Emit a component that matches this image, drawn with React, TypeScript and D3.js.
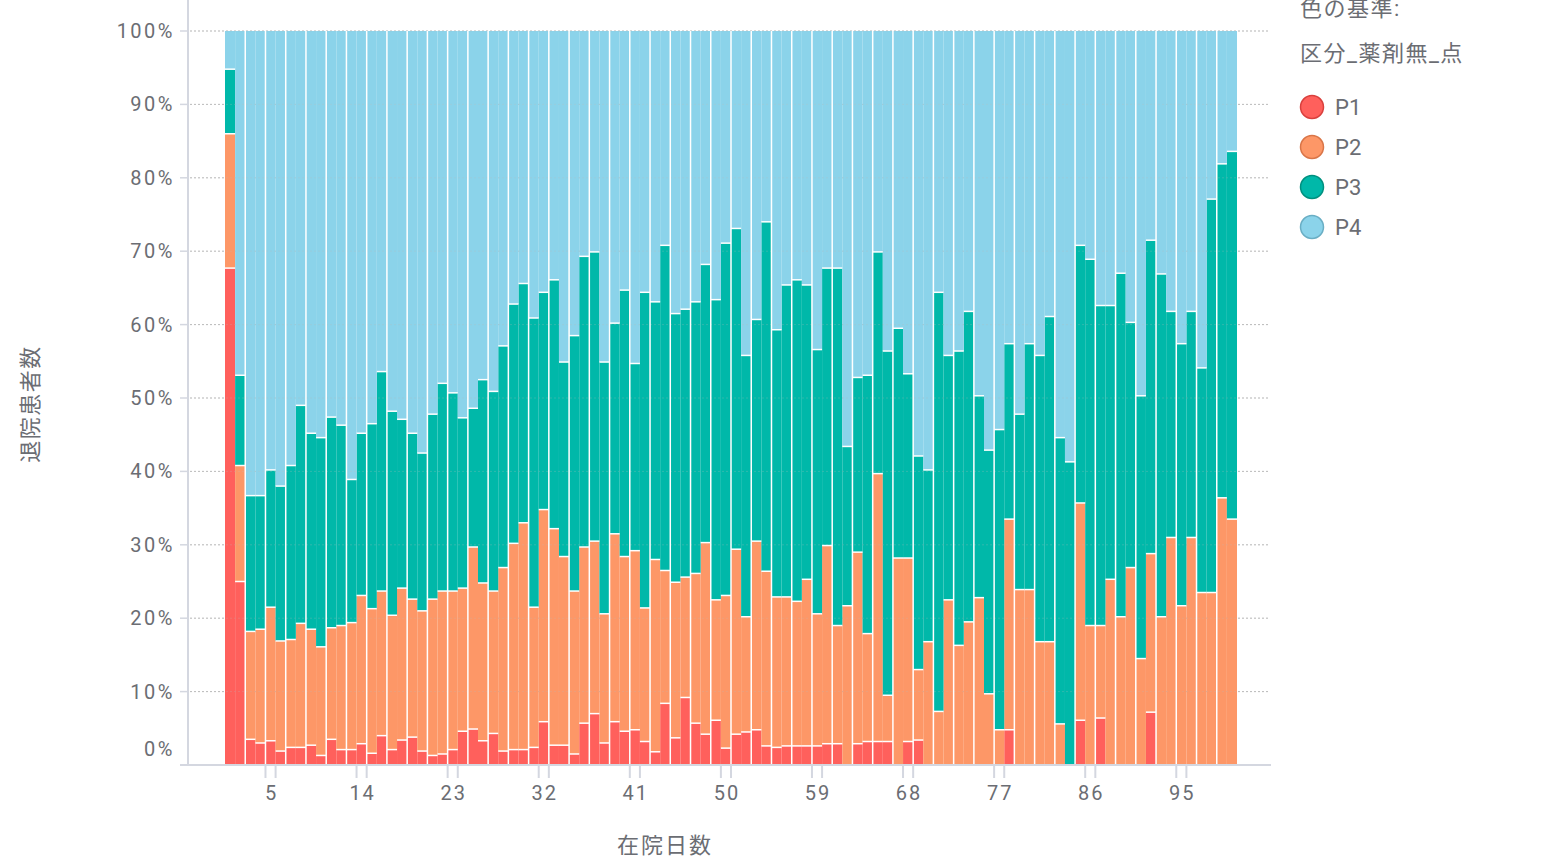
import { useEffect, useRef } from "react"
import * as d3 from "d3"

// 在院日数 1..100
const days = d3.range(1, 101)

// share of discharged patients per day (%)
const p1 = [
  67.7, 25.0, 3.5, 3.0, 3.3, 1.9, 2.4, 2.4, 2.7, 1.3,
  3.5, 2.1, 2.1, 2.9, 1.6, 4.0, 2.1, 3.4, 3.8, 1.9,
  1.3, 1.5, 2.1, 4.6, 4.9, 3.3, 4.3, 1.9, 2.1, 2.1,
  2.4, 5.9, 2.7, 2.7, 1.5, 5.7, 7.0, 3.0, 5.9, 4.6,
  4.8, 3.2, 1.8, 8.4, 3.7, 9.2, 5.7, 4.2, 6.1, 2.3,
  4.2, 4.5, 4.8, 2.6, 2.4, 2.6, 2.6, 2.6, 2.6, 2.9,
  2.9, 0, 2.9, 3.2, 3.2, 3.2, 0, 3.2, 3.4, 0,
  0, 0, 0, 0, 0, 0, 0, 4.8, 0, 0,
  0, 0, 0, 0, 6.1, 0, 6.4, 0, 0, 0,
  0, 7.2, 0, 0, 0, 0, 0, 0, 0, 0,
]
const p2 = [
  18.3, 15.8, 14.7, 15.5, 18.2, 15.0, 14.7, 16.9, 15.8, 14.8,
  15.2, 16.9, 17.3, 20.2, 19.7, 19.7, 18.3, 20.7, 18.8, 19.1,
  21.3, 22.2, 21.6, 19.5, 24.8, 21.5, 19.4, 25.0, 28.1, 30.9,
  19.1, 28.9, 29.5, 25.7, 22.2, 24.0, 23.5, 17.6, 25.6, 23.8,
  24.4, 18.2, 26.2, 18.1, 21.2, 16.4, 20.4, 26.1, 16.4, 20.8,
  25.2, 15.7, 25.7, 23.8, 20.5, 20.3, 19.7, 22.7, 18.0, 27.0,
  16.1, 21.7, 26.1, 14.7, 36.5, 6.3, 28.2, 25.0, 9.6, 16.8,
  7.3, 22.5, 16.3, 19.5, 22.8, 9.7, 4.8, 28.7, 23.9, 23.9,
  16.8, 16.8, 5.6, 0, 29.6, 19.0, 12.6, 25.3, 20.2, 26.9,
  14.5, 21.6, 20.2, 31.0, 21.7, 31.0, 23.5, 23.5, 36.4, 33.5,
]
const p3 = [
  8.8, 12.3, 18.5, 18.2, 18.7, 21.1, 23.7, 29.7, 26.7, 28.5,
  28.7, 27.3, 19.5, 22.1, 25.2, 29.9, 27.8, 23.0, 22.6, 21.5,
  25.2, 28.3, 27.0, 23.2, 18.9, 27.7, 27.2, 30.2, 32.6, 32.6,
  39.4, 29.6, 33.9, 26.5, 34.8, 39.6, 39.4, 34.3, 28.7, 36.3,
  25.5, 43.0, 35.1, 44.3, 36.6, 36.5, 37.0, 37.9, 40.9, 48.0,
  43.7, 35.6, 30.2, 47.6, 36.4, 42.5, 43.8, 40.1, 36.0, 37.8,
  48.7, 21.7, 23.8, 35.2, 30.2, 46.9, 31.3, 25.1, 29.1, 23.4,
  57.1, 33.3, 40.1, 42.3, 27.5, 33.2, 40.9, 23.9, 23.9, 33.5,
  39.0, 44.3, 39.0, 41.3, 35.1, 49.9, 43.6, 37.3, 46.8, 33.4,
  35.8, 42.7, 46.7, 30.8, 35.7, 30.8, 30.6, 53.6, 45.5, 50.1,
]
const p4 = [
  5.2, 46.9, 63.3, 63.3, 59.8, 62.0, 59.2, 51.0, 54.8, 55.4,
  52.6, 53.7, 61.1, 54.8, 53.5, 46.4, 51.8, 52.9, 54.8, 57.5,
  52.2, 48.0, 49.3, 52.7, 51.4, 47.5, 49.1, 42.9, 37.2, 34.4,
  39.1, 35.6, 33.9, 45.1, 41.5, 30.7, 30.1, 45.1, 39.8, 35.3,
  45.3, 35.6, 36.9, 29.2, 38.5, 37.9, 36.9, 31.8, 36.6, 28.9,
  26.9, 44.2, 39.3, 26.0, 40.7, 34.6, 33.9, 34.6, 43.4, 32.3,
  32.3, 56.6, 47.2, 46.9, 30.1, 43.6, 40.5, 46.7, 57.9, 59.8,
  35.6, 44.2, 43.6, 38.2, 49.7, 57.1, 54.3, 42.6, 52.2, 42.6,
  44.2, 38.9, 55.4, 58.7, 29.2, 31.1, 37.4, 37.4, 33.0, 39.7,
  49.7, 28.5, 33.1, 38.2, 42.6, 38.2, 45.9, 22.9, 18.1, 16.4,
]

const keys = ["P1", "P2", "P3", "P4"]
const colors = ["#ff605c", "#fd9767", "#00b8a9", "#8bd3ea"]
const strokes = ["#d9403d", "#d97548", "#00907f", "#6aaec4"]

const yTicks = [0, 0.1, 0.2, 0.3, 0.4, 0.5, 0.6, 0.7, 0.8, 0.9, 1]
const xTickDays = [5, 14, 23, 32, 41, 50, 59, 68, 77, 86, 95]

const FONT = "Roboto, 'Noto Sans CJK JP', sans-serif"
const TEXT = "#6b6d73"
const AXIS = "#d4d7e0"

export default function App() {
  const svgRef = useRef<SVGSVGElement>(null)

  useEffect(() => {
    if (!svgRef.current) return
    const svg = d3.select(svgRef.current)
    svg.selectAll("*").remove()

    const x = d3.scaleBand<number>().domain(days).range([225, 1237]).padding(0)
    const y = d3.scaleLinear().domain([0, 1]).range([765, 31])
    const bw = x.bandwidth()

    const rows = days.map((d, i) => ({ day: d, P1: p1[i], P2: p2[i], P3: p3[i], P4: p4[i] }))
    const layers = d3.stack<any>().keys(keys).offset(d3.stackOffsetExpand)(rows)

    // grid (under bars)
    const grid = (g: any, opacity: number) =>
      g
        .selectAll("line")
        .data(yTicks)
        .enter()
        .append("line")
        .attr("x1", 190)
        .attr("x2", 1270)
        .attr("y1", (d: number) => y(d))
        .attr("y2", (d: number) => y(d))
        .attr("stroke", "#bdbdbd")
        .attr("stroke-dasharray", "2,2")
        .attr("stroke-opacity", opacity)
    grid(svg.append("g"), 1)

    // stacked bars
    svg
      .append("g")
      .selectAll("g")
      .data(layers)
      .enter()
      .append("g")
      .attr("fill", (_d, i) => colors[i])
      .selectAll("rect")
      .data((d) => d)
      .enter()
      .append("rect")
      .attr("x", (d: any) => x(d.data.day)!)
      .attr("width", bw)
      .attr("y", (d) => y(d[1]))
      .attr("height", (d) => y(d[0]) - y(d[1]))

    // faint grid showing through the bars
    grid(svg.append("g"), 0.25)

    // white edges on segment tops
    const edges = svg.append("g").attr("stroke", "#fff").attr("stroke-width", 1.5)
    layers.slice(0, 3).forEach((layer) => {
      edges
        .selectAll(null)
        .data(layer.filter((d) => d[1] - d[0] > 0))
        .enter()
        .append("line")
        .attr("x1", (d: any) => x(d.data.day)!)
        .attr("x2", (d: any) => x(d.data.day)! + bw)
        .attr("y1", (d) => y(d[1]))
        .attr("y2", (d) => y(d[1]))
    })
    // vertical separators
    edges
      .selectAll(null)
      .data(days.filter((_d, i) => i > 0 && i % 2 === 0))
      .enter()
      .append("line")
      .attr("x1", (d) => x(d)!)
      .attr("x2", (d) => x(d)!)
      .attr("y1", y(0))
      .attr("y2", y(1))

    // y axis
    svg.append("line").attr("x1", 188).attr("x2", 188).attr("y1", 0).attr("y2", 765)
      .attr("stroke", AXIS).attr("stroke-width", 2)
    svg
      .append("g")
      .selectAll("line")
      .data(yTicks)
      .enter()
      .append("line")
      .attr("x1", 180)
      .attr("x2", 188)
      .attr("y1", (d) => y(d))
      .attr("y2", (d) => y(d))
      .attr("stroke", AXIS)
      .attr("stroke-width", 1.5)
    svg
      .append("g")
      .selectAll("text")
      .data(yTicks)
      .enter()
      .append("text")
      .attr("x", 175)
      .attr("y", (d) => y(d) + (d === 0 ? -16 : 0))
      .attr("dy", "0.35em")
      .attr("text-anchor", "end")
      .attr("font-family", FONT)
      .attr("font-size", 20)
      .attr("letter-spacing", 2.5)
      .attr("fill", TEXT)
      .text((d) => `${Math.round(d * 100)}%`)

    // x axis
    svg.append("line").attr("x1", 180).attr("x2", 1271).attr("y1", 765).attr("y2", 765)
      .attr("stroke", AXIS).attr("stroke-width", 2)
    const xt = svg.append("g").selectAll("g").data(xTickDays).enter().append("g")
    xt.append("line")
      .attr("x1", (d) => x(d)!)
      .attr("x2", (d) => x(d)!)
      .attr("y1", 765)
      .attr("y2", 778)
      .attr("stroke", AXIS)
      .attr("stroke-width", 2)
    xt.append("line")
      .attr("x1", (d) => x(d)! + bw)
      .attr("x2", (d) => x(d)! + bw)
      .attr("y1", 765)
      .attr("y2", 778)
      .attr("stroke", AXIS)
      .attr("stroke-width", 2)
    xt.append("text")
      .attr("x", (d) => x(d)! + bw / 2 + 1)
      .attr("y", 800)
      .attr("text-anchor", "middle")
      .attr("font-family", FONT)
      .attr("font-size", 20)
      .attr("letter-spacing", 2)
      .attr("fill", TEXT)
      .text((d) => d)

    // axis titles
    svg.append("text")
      .attr("x", 665)
      .attr("y", 853)
      .attr("text-anchor", "middle")
      .attr("font-family", FONT)
      .attr("font-size", 22)
      .attr("letter-spacing", 2)
      .attr("fill", TEXT)
      .text("在院日数")
    svg.append("text")
      .attr("transform", "translate(38,404) rotate(-90)")
      .attr("text-anchor", "middle")
      .attr("font-family", FONT)
      .attr("font-size", 22)
      .attr("letter-spacing", 1.5)
      .attr("fill", TEXT)
      .text("退院患者数")

    // legend
    const lg = svg.append("g").attr("font-family", FONT).attr("fill", TEXT)
    lg.append("text").attr("x", 1300).attr("y", 16).attr("font-size", 22).attr("letter-spacing", 1.5).text("色の基準:")
    lg.append("text").attr("x", 1300).attr("y", 61).attr("font-size", 22).attr("letter-spacing", 1.5).text("区分_薬剤無_点")
    const items = lg.selectAll("g").data(keys).enter().append("g")
      .attr("transform", (_d, i) => `translate(1312,${107 + i * 40})`)
    items.append("circle").attr("r", 11.5)
      .attr("fill", (_d, i) => colors[i])
      .attr("stroke", (_d, i) => strokes[i])
      .attr("stroke-width", 1.5)
    items.append("text")
      .attr("x", 23)
      .attr("dy", "0.36em")
      .attr("font-size", 22)
      .text((d) => d)
  }, [])

  return (
    <svg
      ref={svgRef}
      width={1542}
      height={865}
      style={{ position: "absolute", left: 0, top: 0, background: "#fff" }}
    />
  )
}
